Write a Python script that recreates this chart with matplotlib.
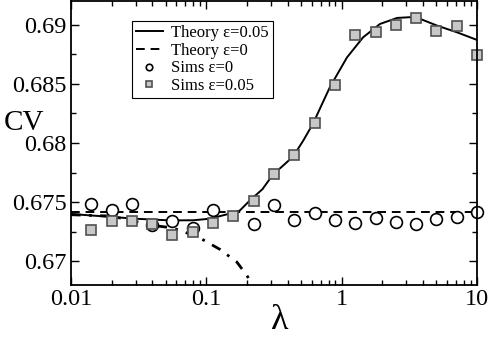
import matplotlib.pyplot as plt
from matplotlib.ticker import LogLocator, MultipleLocator, FixedLocator

# simulation lambda values (eps=0.05)
lam_sims = [0.0141, 0.0200, 0.0282, 0.0398, 0.0562, 0.0794, 0.112, 0.158, 0.224,
            0.316, 0.447, 0.631, 0.891, 1.26, 1.78, 2.51, 3.55, 5.01, 7.08, 10.0]

# sims eps=0 (no visible point at 0.158)
lam_sims0 = [0.0141, 0.0200, 0.0282, 0.0398, 0.0562, 0.0794, 0.112, 0.224,
             0.316, 0.447, 0.631, 0.891, 1.26, 1.78, 2.51, 3.55, 5.01, 7.08, 10.0]
cv_sims0 = [0.67487, 0.67430, 0.67481, 0.67304, 0.67340, 0.67284, 0.67430, 0.67318,
            0.67478, 0.67352, 0.67408, 0.67352, 0.67323, 0.67369, 0.67329, 0.67315,
            0.67354, 0.67374, 0.67416]

# sims eps=0.05
cv_sims05 = [0.67262, 0.67338, 0.67338, 0.67312, 0.67219, 0.67245, 0.67327, 0.67382,
             0.67509, 0.67734, 0.67895, 0.68170, 0.68488, 0.68916, 0.68941, 0.68994,
             0.69053, 0.68949, 0.68986, 0.68744]

# theory eps=0.05
lam_th = [0.01, 0.02, 0.03, 0.054, 0.08, 0.106, 0.157, 0.177, 0.21, 0.26, 0.311,
          0.37, 0.438, 0.52, 0.615, 0.71, 0.821, 1.096, 1.44, 1.92, 2.57, 3.2, 3.8,
          5.07, 7.13, 10.0]
cv_th = [0.67400, 0.67375, 0.67360, 0.67346, 0.67347, 0.67360, 0.67410, 0.67430,
         0.67515, 0.67610, 0.67734, 0.67810, 0.67886, 0.68020, 0.68165, 0.68320,
         0.68475, 0.68724, 0.68893, 0.69006, 0.69057, 0.69063, 0.69049, 0.68992,
         0.68935, 0.68871]

# theory eps=0 (flat)
lam_th0 = [0.01, 10.0]
cv_th0 = [0.67416, 0.67416]

# small-lambda approximation (dash-dot)
lam_app = [0.01, 0.02, 0.04, 0.055, 0.064, 0.0897, 0.126, 0.168, 0.199, 0.23]
cv_app = [0.67394, 0.67382, 0.67304, 0.67284, 0.67262, 0.67197, 0.67101, 0.66994,
          0.66882, 0.66760]

plt.rcParams['font.family'] = ['Liberation Serif', 'DejaVu Serif']

fig = plt.figure(figsize=(4.91, 3.40), dpi=100)
ax = fig.add_axes([71/491, 55/340, 406/491, 284/340])

ax.plot(lam_th, cv_th, color='black', lw=1.4, label='Theory ε=0.05')
ax.plot(lam_th0, cv_th0, color='black', lw=1.4, dashes=(4.5, 3), label='Theory ε=0')
ax.plot(lam_app, cv_app, color='black', lw=2.0, dashes=(3.5, 3, 1, 3))
ax.plot(lam_sims0, cv_sims0, 'o', ms=8.5, mfc='white', mec='black', mew=1.2,
        clip_on=False, label='Sims ε=0')
ax.plot(lam_sims, cv_sims05, 's', ms=7, mfc='#c8c8c8', mec='#505050', mew=1.2,
        clip_on=False, label='Sims ε=0.05')

ax.set_xscale('log')
ax.set_xlim(0.01, 10)
ax.set_ylim(0.668, 0.692)
ax.xaxis.set_major_locator(FixedLocator([0.01, 0.1, 1, 10]))
ax.set_xticklabels(['0.01', '0.1', '1', '10'])
ax.xaxis.set_minor_locator(LogLocator(base=10, subs=range(2, 10)))
ax.yaxis.set_minor_locator(MultipleLocator(0.0025))
ax.set_yticks([0.67, 0.675, 0.68, 0.685, 0.69])
ax.set_yticklabels(['0.67', '0.675', '0.68', '0.685', '0.69'])

ax.tick_params(which='both', direction='in', top=True, right=True,
               labelsize=17.5, pad=3, width=1)
ax.tick_params(which='major', length=6)
ax.tick_params(which='minor', length=3.5)
for s in ax.spines.values():
    s.set_linewidth(1.3)

ax.set_ylabel('CV', fontsize=21, rotation=0)
ax.yaxis.set_label_coords(-0.116, 0.57)
ax.set_xlabel('λ', fontsize=26)
ax.xaxis.set_label_coords(0.515, -0.125)
ax.yaxis.label.set_va('center')
ax.xaxis.label.set_va('center')

leg = ax.legend(loc='upper left', bbox_to_anchor=(0.150, 0.930), borderaxespad=0,
                fontsize=12, labelspacing=0.1, borderpad=0.25, handlelength=1.6,
                handletextpad=0.5, markerscale=0.55, fancybox=False,
                edgecolor='black', framealpha=1)
leg.get_frame().set_linewidth(0.8)

fig.savefig('out.png', dpi=100)
